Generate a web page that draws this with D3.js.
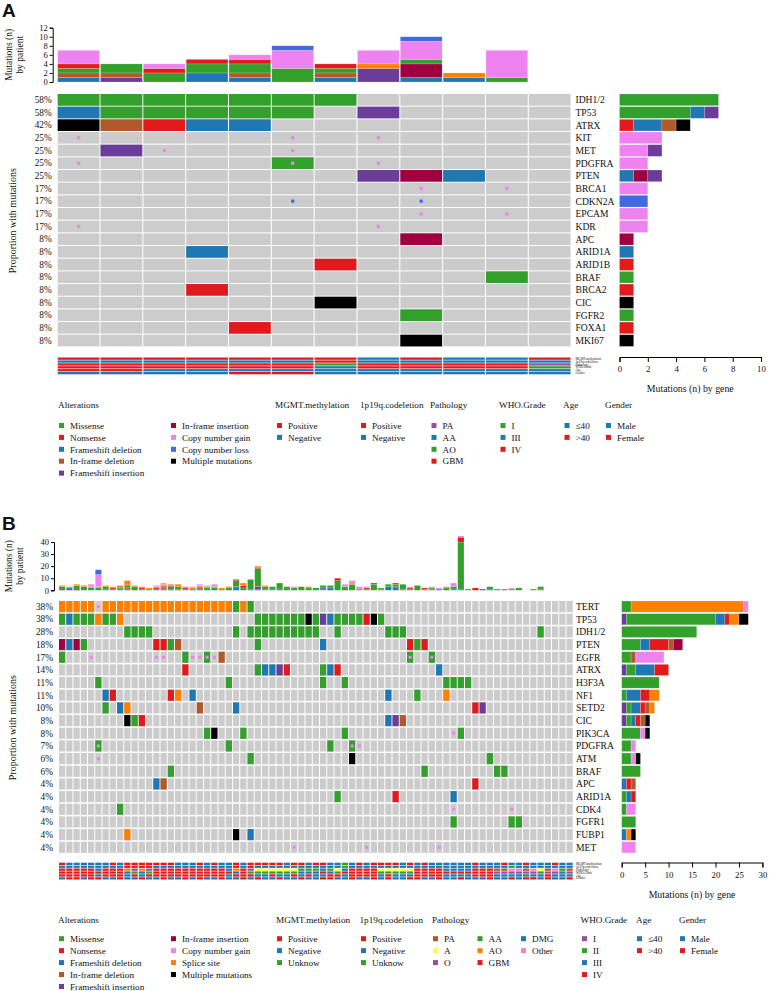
<!DOCTYPE html>
<html><head><meta charset="utf-8">
<script src="https://cdn.jsdelivr.net/npm/d3@7"></script>
<style>
body{margin:0;background:#fff}
text{font-family:"Liberation Serif","Times New Roman",serif;fill:#111}
</style>
</head><body>
<svg id="chart" width="769" height="991"></svg>
<script>
// ---------- alteration types ----------
const altCodes  = ["M","N","FD","ID","FI","II","G","L","S","X"];
const altNames  = ["Missense","Nonsense","Frameshift deletion","In-frame deletion","Frameshift insertion","In-frame insertion","Copy number gain","Copy number loss","Splice site","Multiple mutations"];
const altColors = ["#33a02c","#e31a1c","#1f78b4","#b15928","#6a3d9a","#a0003f","#ee82ee","#4169e1","#ff7f00","#000000"];
const smallTypes = ["G","L"];                 // drawn as small squares inside the cell
const stackOrder = ["FD","FI","ID","II","M","N","S","X","G","L"]; // bottom -> top in bar stacks

// ---------- Panel A data ----------
const genesA = ["IDH1/2","TP53","ATRX","KIT","MET","PDGFRA","PTEN","BRCA1","CDKN2A","EPCAM","KDR","APC","ARID1A","ARID1B","BRAF","BRCA2","CIC","FGFR2","FOXA1","MKI67"];
const pctA = ["58%","58%","42%","25%","25%","25%","25%","17%","17%","17%","17%","8%","8%","8%","8%","8%","8%","8%","8%","8%"];
const cellsA = [
  "1-7:M",
  "1:FD 2-6:M 8:FI",
  "1:X 2:ID 3:N 4:FD 5:FD",
  "1:G 6:G 8:G",
  "2:FI 3:G 6:G",
  "1:G 6:M+G 8:G",
  "8:FI 9:II 10:FD",
  "9:G 11:G",
  "6:L 9:L",
  "9:G 11:G",
  "1:G 8:G",
  "9:II",
  "4:FD",
  "7:N",
  "11:M",
  "4:N",
  "7:X",
  "9:M",
  "5:N",
  "9:X"
];
const geneBarsA = ["M7","M5 FD1 FI1","N1 FD2 ID1 X1","G3","G2 FI1","G2","FD1 II1 FI1","G2","L2","G2","G2","II1","FD1","N1","M1","N1","X1","M1","N1","X1"];
const patientBarsA = ["FD1 ID1 M1 N1 G3","FI1 ID1 M2","M2 N1 G1","FD2 M2 N1","FD1 ID1 M2 N1 G1","M3 G4 L1","FD1 ID1 M1 N1","FI3 S1 G3","FD1 II3 M1 G4 L1","FD1 S1","M1 G6",""];
const topTicksA = [0,2,4,6,8,10,12];
const rightTicksA = [0,2,4,6,8,10];
const trackNames = ["MGMT.methylation","1p19q.codeletion","Pathology","WHO.Grade","Age","Gender"];
const tracksA = [
  "PPPPPPPNPNNP",
  "NNNNNNPNNNNN",
  "ggggggoggggp",
  "444444344441",
  "ooyyyyyyyyyy",
  "mmmmffmmmmmm"
];

// ---------- Panel B data ----------
const genesB = ["TERT","TP53","IDH1/2","PTEN","EGFR","ATRX","H3F3A","NF1","SETD2","CIC","PIK3CA","PDGFRA","ATM","BRAF","APC","ARID1A","CDK4","FGFR1","FUBP1","MET"];
const pctB = ["38%","38%","28%","18%","17%","14%","11%","11%","10%","8%","8%","7%","6%","6%","4%","4%","4%","4%","4%","4%"];
const cellsB = [
  "1-5:S 6:G 7-24:S 25:M 26:S 27:M",
  "1:M 2:FD 3-5:M 6:S 7-8:M 9:S 28-34:M 35:X 36:M 37:FI 38:FD 39-42:M 43:N 44:X 45:M",
  "10-13:M 25:M 27-36:M 39:M 46-48:M 67:M",
  "1:II 2:FD 3:II 4:M 14:N 15:N 16:M 17:ID 28:M 37:FD 49:N 50:M 51:N",
  "1:M 5:G 14:G 15:G 18:M 19:G 20:G 21:M+G 22:G 23:ID 49:M+G 52:M+G",
  "18:N 28:M 29:FD 30:FD 31:FI 32:N 37:M 38:FD 39:N 53:FD",
  "6:M 24:M 37:M 40:M 54-57:M",
  "7:FD 8:N 16:N 17:S 19:FD 46:FD 50:M 54:S",
  "7:M 9:FD 10:S 20:ID 25:FD 58:N 59:FI",
  "10:X 11:M 12:N 46:FD 47:FI 48:ID",
  "21:M 22:X 26:M 40:M 55:G 56:M",
  "6:M+G 24:M 38:M 41:M+G 42:G",
  "6:G 27:M 41:X 60:M",
  "16:M 51:M 61:M 62:M",
  "14:FD 15:ID 58:N",
  "39:M 47:N 55:FD",
  "9:M 55:G 63:G",
  "55:M 63:M 64:M",
  "10:S 25:X 27:FD",
  "33:G 43:G 53:G"
];
const geneBarsB = ["M2 S24 G1","FI1 M19 FD2 N1 S2 X2","M16","M4 FD2 N4 ID1 II2","M2 ID1 G6","FI1 M2 FD4 N3","M8","M1 FD3 N2 S2","FI1 M1 FD2 N1 ID1 S1","FI1 M1 FD1 N1 ID1 X1","M4 G1 X1","M2 G1","M2 G1 X1","M4","FD1 N1 ID1","M1 FD1 N1","M1 G2","M3","FD1 S1 X1","G3"];
const patientBarsB = [
  "II1 M2 S1","FD2 S1","II1 M3 S1","M3 S1","M2 S1 G2","M2 S1 G10 L4","FD1 M2 S1","M1 N1 S1","FD1 M1 S2","FD1 ID1 M2 N1 S3",
  "M3 S1","M1 N1 S1","M1 S1","FD1 N1 S1 G1","FD1 ID1 M1 N1 S1 G1","FD1 M2 N1 S1","ID1 M2 S2","M1 N1 S1","FD1 S1 G1","FD1 ID1 M1 S1 G1",
  "M2 S1 G1","M2 S1 G2","ID1 S1","M2 S1","FD2 FI1 M5 N1","M2 N2 S2","FD1 M8","FD1 FI2 M15 N1 S1","FD1 M2 S1","FD1 M2",
  "FI1 M5","M2 N1","M2 G1","M3","M2 S1","M2","FD1 FI1 M2","FD2 M2","M8 N2","M3 G2",
  "M5 S1 G2","M1 G2","M1 N1 G1","M5 N1","ID1 M1","FD3 M2","FD2 FI1 M2 N1","ID1 M4","M1 N1 G1","M4",
  "M1 N1","ID1 M1 G1","FD1 G1","M2 S1","FD1 M2 G3","FD1 M39 N4 G1","M1","N2","FI1","FD1 M2",
  "M1","M1","M1 G1","M2","","ID1","ID1 M2","","","",""
];
const topTicksB = [0,10,20,30,40];
const rightTicksB = [0,5,10,15,20,25,30];
// one character per patient (groups of ten, spaces ignored)
const tracksB = [
  "PNNNNNNPNP PPPPPPNNNP NPNNPNPPPP PNPPNPPNNU NPNPPPPNPN PNNNNNNPNN NPNNPNNNPN N",
  "NNNNNNNNNP PPPNNNNNNN NNNNPNPNNN NNNNNNNNNU NNNNNNNNNN NNNNNNNNNN NNUNNNNNNN N",
  "GGGGGdGGGO oOoGGGGGGG GGGdOGoaaa aaaAAAdAad GGGGaaaaaG GGGddddGGG ppxxpxapxA p",
  "4444444443 2324444444 4444342222 2223334324 4444222224 4444444444 1111112113 1",
  "oooooyoooy oyoooooooo oooyoooyyo yyoyoyyooy ooooyoyyyo oooyyyyooo yyyyyyyoyy y",
  "mffmffmmfm mfmmfmmfmf mmfmmfmfmm fmmfmmffmm fmmfmfmmff mmfmmfmmmf mmfmffmfmm f"
];

// ---------- track colour keys ----------
const RED="#e31a1c", BLUE="#1f78b4", GREEN="#33a02c";
const trackColorA = [
  {P:RED,N:BLUE},
  {P:RED,N:BLUE},
  {p:"#984ea3",a:BLUE,o:GREEN,g:RED},
  {"1":GREEN,"3":BLUE,"4":RED},
  {y:BLUE,o:RED},
  {m:BLUE,f:RED}
];
const trackColorB = [
  {P:RED,N:BLUE,U:GREEN},
  {P:RED,N:BLUE,U:GREEN},
  {p:"#b15928",a:"#ffff33",o:"#984ea3",A:GREEN,O:"#ff7f00",G:RED,d:BLUE,x:"#f781bf"},
  {"1":"#984ea3","2":GREEN,"3":BLUE,"4":RED},
  {y:BLUE,o:RED},
  {m:BLUE,f:RED}
];

// ---------- legends ----------
const legendA = [
  {title:"Alterations", x:58, cols:[{x:59,items:[["Missense",altColors[0]],["Nonsense",altColors[1]],["Frameshift deletion",altColors[2]],["In-frame deletion",altColors[3]],["Frameshift insertion",altColors[4]]]},
                                    {x:171,items:[["In-frame insertion",altColors[5]],["Copy number gain",altColors[6]],["Copy number loss",altColors[7]],["Multiple mutations",altColors[9]]]}]},
  {title:"MGMT.methylation", x:275, cols:[{x:277,items:[["Positive",RED],["Negative",BLUE]]}]},
  {title:"1p19q.codeletion", x:360, cols:[{x:361,items:[["Positive",RED],["Negative",BLUE]]}]},
  {title:"Pathology", x:430, cols:[{x:431.5,items:[["PA","#984ea3"],["AA",BLUE],["AO",GREEN],["GBM",RED]]}]},
  {title:"WHO.Grade", x:499, cols:[{x:500.5,items:[["I",GREEN],["III",BLUE],["IV",RED]]}]},
  {title:"Age", x:563, cols:[{x:564.5,items:[["≤40",BLUE],[">40",RED]]}]},
  {title:"Gender", x:605, cols:[{x:606,items:[["Male",BLUE],["Female",RED]]}]}
];
const legendB = [
  {title:"Alterations", x:58, cols:[{x:59,items:[["Missense",altColors[0]],["Nonsense",altColors[1]],["Frameshift deletion",altColors[2]],["In-frame deletion",altColors[3]],["Frameshift insertion",altColors[4]]]},
                                    {x:171,items:[["In-frame insertion",altColors[5]],["Copy number gain",altColors[6]],["Splice site",altColors[8]],["Multiple mutations",altColors[9]]]}]},
  {title:"MGMT.methylation", x:276, cols:[{x:277,items:[["Positive",RED],["Negative",BLUE],["Unknow",GREEN]]}]},
  {title:"1p19q.codeletion", x:359.5, cols:[{x:361,items:[["Positive",RED],["Negative",BLUE],["Unknow",GREEN]]}]},
  {title:"Pathology", x:432, cols:[{x:433,items:[["PA","#b15928"],["A","#ffff33"],["O","#984ea3"]]},{x:477.5,items:[["AA",GREEN],["AO","#ff7f00"],["GBM",RED]]},{x:521,items:[["DMG",BLUE],["Other","#f781bf"]]}]},
  {title:"WHO.Grade", x:580.5, cols:[{x:582,items:[["I","#984ea3"],["II",GREEN],["III",BLUE],["IV",RED]]}]},
  {title:"Age", x:636, cols:[{x:637,items:[["≤40",BLUE],[">40",RED]]}]},
  {title:"Gender", x:679, cols:[{x:680,items:[["Male",BLUE],["Female",RED]]}]}
];

// ---------- helpers ----------
const colorOf = t => altColors[altCodes.indexOf(t)];
function parseCells(s){
  const out=[];
  s.split(" ").filter(Boolean).forEach(tok=>{
    const [c,t]=tok.split(":");
    const [a,b]=c.split("-").map(Number);
    for(let k=a;k<=(b||a);k++) out.push({col:k,types:t.split("+")});
  });
  return out;
}
function parseSegs(s){
  return s.split(" ").filter(Boolean).map(tok=>{const m=tok.match(/^([A-Z]+)(\d+)$/);return {t:m[1],n:+m[2]};});
}
function stack(segs){let acc=0;return segs.map(d=>{const r={t:d.t,a:acc,b:acc+d.n};acc+=d.n;return r;});}

const svg = d3.select("#chart");

function drawPanel(P){
  const g = svg.append("g");
  const N = P.nCols;
  const x = d3.scaleBand().domain(d3.range(1,N+1)).range([P.x0, P.x0+P.colStep*N-P.colStep*P.padCol]).paddingInner(P.padCol).paddingOuter(0);
  const y = d3.scaleBand().domain(d3.range(P.genes.length)).range([P.y0, P.y0+P.rowStep*P.genes.length-P.rowStep*P.padRow]).paddingInner(P.padRow).paddingOuter(0);

  g.append("text").attr("x",2).attr("y",P.letterY).text(P.letter)
    .style("font-family","Liberation Sans, Arial, sans-serif").style("font-weight","bold").style("font-size","19px");

  // top bars (mutations by patient)
  const yt = d3.scaleLinear().domain([0,P.topMax]).range([P.topBase,P.topTop]);
  const tb = g.append("g");
  P.patientBars.slice(0,N).forEach((s,i)=>{
    const segs = parseSegs(s).sort((a,b)=>stackOrder.indexOf(a.t)-stackOrder.indexOf(b.t));
    stack(segs).forEach(d=>{
      tb.append("rect").attr("x",x(i+1)).attr("width",x.bandwidth())
        .attr("y",yt(d.b)).attr("height",yt(d.a)-yt(d.b))
        .attr("fill",colorOf(d.t)).attr("stroke","#fff").attr("stroke-opacity",0.35).attr("stroke-width",0.5);
    });
  });
  const ya = g.append("g").attr("transform",`translate(${P.x0-5},0)`)
    .call(d3.axisLeft(yt).tickValues(P.topTicks).tickSize(3).tickPadding(2).tickFormat(d3.format("d")));
  ya.selectAll("text").style("font-family","Liberation Serif, serif").style("font-size","8.5px");
  ya.select(".domain").attr("stroke","#000");
  const ymid=(P.topBase+P.topTop)/2;
  g.append("text").attr("transform",`translate(12,${ymid}) rotate(-90)`).attr("text-anchor","middle").style("font-size","9.5px").text("Mutations (n)");
  g.append("text").attr("transform",`translate(23,${ymid}) rotate(-90)`).attr("text-anchor","middle").style("font-size","9.5px").text("by patient");

  // oncoprint grid
  const grid = g.append("g");
  P.genes.forEach((gene,r)=>{
    for(let c=1;c<=N;c++){
      grid.append("rect").attr("x",x(c)).attr("y",y(r)).attr("width",x.bandwidth()).attr("height",y.bandwidth()).attr("fill","#cccccc");
    }
    const cells = parseCells(P.cells[r]).filter(c=>c.col>=1 && c.col<=N);
    cells.forEach(cell=>{
      cell.types.filter(t=>!smallTypes.includes(t)).forEach(t=>{
        grid.append("rect").attr("x",x(cell.col)).attr("y",y(r)).attr("width",x.bandwidth()).attr("height",y.bandwidth()).attr("fill",colorOf(t));
      });
    });
    cells.forEach(cell=>{
      cell.types.filter(t=>smallTypes.includes(t)).forEach(t=>{
        const s=P.sq;
        grid.append("rect").attr("x",x(cell.col)+x.bandwidth()/2-s/2).attr("y",y(r)+y.bandwidth()/2-s/2).attr("width",s).attr("height",s).attr("fill",colorOf(t));
      });
    });
    g.append("text").attr("x",P.x0-6).attr("y",y(r)+y.bandwidth()/2).attr("dy","0.35em").attr("text-anchor","end").style("font-size","9.3px").text(P.pct[r]);
    g.append("text").attr("x",P.geneX).attr("y",y(r)+y.bandwidth()/2).attr("dy","0.35em").style("font-size","9.6px").text(gene);
  });
  const gy0=P.y0, gy1=P.y0+P.rowStep*P.genes.length;
  g.append("text").attr("transform",`translate(16,${(gy0+gy1)/2}) rotate(-90)`).attr("text-anchor","middle").style("font-size","10px").text("Proportion with mutations");

  // right bars (mutations by gene)
  const xr = d3.scaleLinear().domain([0,P.rightMax]).range([P.rx0,P.rx1]);
  P.geneBars.forEach((s,r)=>{
    stack(parseSegs(s)).forEach(d=>{
      g.append("rect").attr("x",xr(d.a)).attr("width",xr(d.b)-xr(d.a)).attr("y",y(r)).attr("height",y.bandwidth())
        .attr("fill",colorOf(d.t)).attr("stroke","#fff").attr("stroke-opacity",0.35).attr("stroke-width",0.5);
    });
  });
  const xa = g.append("g").attr("transform",`translate(0,${P.axisY})`)
    .call(d3.axisBottom(xr).tickValues(P.rightTicks).tickSize(5).tickPadding(4).tickFormat(d3.format("d")));
  xa.selectAll("text").style("font-family","Liberation Serif, serif").style("font-size","8.8px");
  xa.select(".domain").attr("stroke","#000");
  g.append("text").attr("x",(P.rx0+P.rx1)/2).attr("y",P.axisTitleY).attr("text-anchor","middle").style("font-size","9.8px").text("Mutations (n) by gene");

  // annotation tracks
  P.tracks.forEach((vals,ti)=>{
    const ty = P.trackY0 + ti*P.trackStep;
    vals.replace(/\s+/g,"").split("").slice(0,N).forEach((ch,ci)=>{
      g.append("rect").attr("x",x(ci+1)).attr("y",ty).attr("width",x.bandwidth()).attr("height",P.trackH).attr("fill",P.trackColors[ti][ch]||"#ccc");
    });
    g.append("text").attr("x",P.geneX).attr("y",ty+P.trackH/2).attr("dy","0.35em").style("font-size","3.2px").text(trackNames[ti]);
  });

  // legend
  P.legend.forEach(L=>{
    g.append("text").attr("x",L.x).attr("y",P.legY).attr("dy","0.35em").style("font-size","9.2px").text(L.title);
    L.cols.forEach(col=>{
      col.items.forEach((it,k)=>{
        const yy = P.legY0 + k*P.legStep;
        g.append("rect").attr("x",col.x).attr("y",yy-2.5).attr("width",5).attr("height",5).attr("fill",it[1]);
        g.append("text").attr("x",col.x+11).attr("y",yy).attr("dy","0.35em").style("font-size","9.2px").text(it[0]);
      });
    });
  });
}

drawPanel({
  letter:"A", letterY:17, nCols:12, genes:genesA, pct:pctA, cells:cellsA, geneBars:geneBarsA, patientBars:patientBarsA,
  x0:57.7, colStep:42.83, padCol:0.025, y0:94, rowStep:12.67, padRow:0.08, sq:3.2,
  topBase:82, topTop:27.7, topMax:12, topTicks:topTicksA,
  geneX:575.5, rx0:619.5, rx1:761, rightMax:10, rightTicks:rightTicksA, axisY:357, axisTitleY:391.5,
  tracks:tracksA, trackColors:trackColorA, trackY0:357.5, trackStep:2.9, trackH:2.3,
  legend:legendA, legY:405, legY0:425.5, legStep:11.9
});
drawPanel({
  letter:"B", letterY:530, nCols:71, genes:genesB, pct:pctB, cells:cellsB, geneBars:geneBarsB, patientBars:patientBarsB,
  x0:59, colStep:7.25, padCol:0.14, y0:601, rowStep:12.67, padRow:0.12, sq:3,
  topBase:590.3, topTop:542, topMax:40, topTicks:topTicksB,
  geneX:576, rx0:621.7, rx1:762.4, rightMax:30, rightTicks:rightTicksB, axisY:862.5, axisTitleY:897.5,
  tracks:tracksB, trackColors:trackColorB, trackY0:862.7, trackStep:2.9, trackH:2.3,
  legend:legendB, legY:920, legY0:938.7, legStep:11.95
});
</script>
</body></html>
